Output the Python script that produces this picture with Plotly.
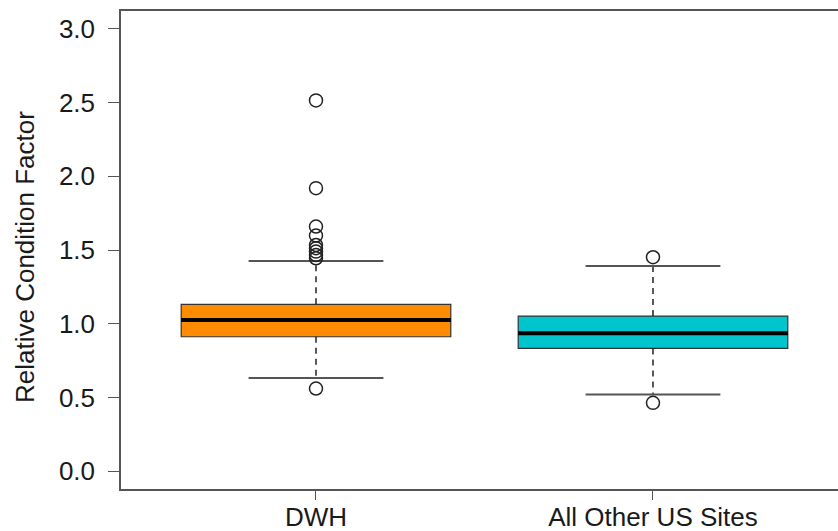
import plotly.graph_objects as go

# ---- data ----
categories = ["DWH", "All Other US Sites"]
positions = [1, 2]
q1 = [0.912, 0.833]
median = [1.025, 0.935]
q3 = [1.132, 1.052]
lower_whisker = [0.633, 0.521]
upper_whisker = [1.426, 1.392]
outliers = [
    [2.514, 1.919, 1.659, 1.598, 1.534, 1.512, 1.489, 1.466, 1.444, 0.561],
    [1.451, 0.464],
]
fill_colors = ["#FF8C00", "#00C5CD"]
y_ticks = [0.0, 0.5, 1.0, 1.5, 2.0, 2.5, 3.0]
y_title = "Relative Condition Factor"

BOX_W = 0.8
CAP_W = 0.4
FONT = "Liberation Sans, Arial, Helvetica, sans-serif"
FS = 26

fig = go.Figure()

for i, pos in enumerate(positions):
    # dashed whiskers
    fig.add_trace(go.Scatter(
        x=[pos, pos, None, pos, pos],
        y=[q3[i], upper_whisker[i], None, q1[i], lower_whisker[i]],
        mode="lines", line=dict(color="#222222", width=1.5, dash="6px,5px"),
        hoverinfo="skip", showlegend=False))
    # whisker caps
    fig.add_trace(go.Scatter(
        x=[pos - CAP_W / 2, pos + CAP_W / 2, None, pos - CAP_W / 2, pos + CAP_W / 2],
        y=[upper_whisker[i], upper_whisker[i], None, lower_whisker[i], lower_whisker[i]],
        mode="lines", line=dict(color="#555555", width=2),
        hoverinfo="skip", showlegend=False))
    # box body
    fig.add_trace(go.Box(
        x=[pos], q1=[q1[i]], median=[median[i]], q3=[q3[i]],
        lowerfence=[q1[i]], upperfence=[q3[i]],
        width=BOX_W, whiskerwidth=0,
        fillcolor=fill_colors[i], line=dict(color="#333333", width=1.2),
        boxpoints=False, hoverinfo="skip", showlegend=False))
    # thick median
    fig.add_trace(go.Scatter(
        x=[pos - BOX_W / 2, pos + BOX_W / 2], y=[median[i], median[i]],
        mode="lines", line=dict(color="#000000", width=4),
        hoverinfo="skip", showlegend=False))
    # outliers
    fig.add_trace(go.Scatter(
        x=[pos] * len(outliers[i]), y=outliers[i], mode="markers",
        marker=dict(symbol="circle-open", size=13, color="#222222",
                    line=dict(width=1.5, color="#222222")),
        hoverinfo="skip", showlegend=False))

fig.update_layout(
    width=838, height=531,
    margin=dict(l=121, r=0, t=11, b=42),
    paper_bgcolor="white", plot_bgcolor="white",
    font=dict(family=FONT, size=FS, color="#1a1a1a"),
    xaxis=dict(
        range=[0.4214, 2.549], tickvals=positions, ticktext=categories,
        showline=True, linecolor="#555555", linewidth=1.5, mirror=True,
        ticks="outside", ticklen=9, tickwidth=1.2, tickcolor="#555555",
        showgrid=False, zeroline=False, tickfont=dict(size=FS),
        ticklabelstandoff=-5, automargin=False,
    ),
    yaxis=dict(
        range=[-0.12, 3.12], tickvals=y_ticks, tickformat=".1f",
        showline=True, linecolor="#555555", linewidth=1.5,
        ticks="outside", ticklen=11, tickwidth=1.2, tickcolor="#555555",
        showgrid=False, zeroline=False, tickfont=dict(size=FS),
        ticklabelstandoff=8, automargin=False,
    ),
    annotations=[dict(
        text=y_title, textangle=-90, showarrow=False,
        xref="paper", yref="paper", x=(25 - 121) / 717, y=(489 - 257) / 478,
        xanchor="center", yanchor="middle", font=dict(size=FS, color="#1a1a1a"),
    )],
)

fig.write_html("out.html")
